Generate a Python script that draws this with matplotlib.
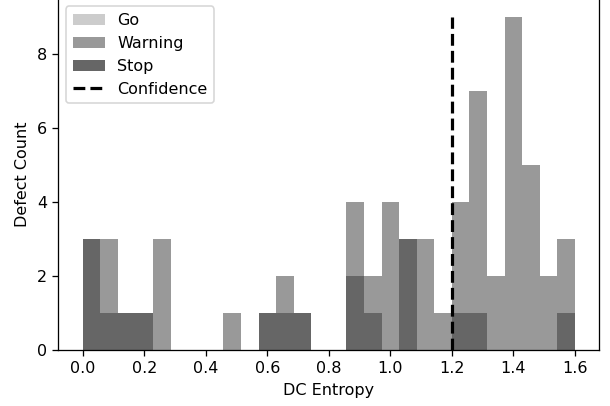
import numpy as np
import matplotlib
matplotlib.use('Agg')
import matplotlib.pyplot as plt

# 28 equal bins from 0 to 1.6
bin_edges = np.linspace(0.0, 1.6, 29)
bin_centers = (bin_edges[:-1] + bin_edges[1:]) / 2

# defect counts per bin
go_counts = [0] * 28
warning_counts = [3, 3, 1, 1, 3, 0, 0, 0, 1, 0, 1, 2, 1, 0,
                  0, 4, 2, 4, 3, 3, 1, 4, 7, 2, 9, 5, 2, 3]
stop_counts = [3, 1, 1, 1, 0, 0, 0, 0, 0, 0, 1, 1, 1, 0,
               0, 2, 1, 0, 3, 0, 0, 1, 1, 0, 0, 0, 0, 1]

confidence = 1.2
confidence_top = 9

fig = plt.figure(figsize=(610 / 115, 406 / 115), dpi=115)
# top edge of the axes sits just past the canvas, as in the cropped original
ax = fig.add_axes([0.0956, 0.138, 0.887, 0.866])

_, _, p_go = ax.hist(bin_centers, bins=bin_edges, weights=go_counts, color='0.8', label='Go')
_, _, p_warn = ax.hist(bin_centers, bins=bin_edges, weights=warning_counts, color='0.6', label='Warning')
_, _, p_stop = ax.hist(bin_centers, bins=bin_edges, weights=stop_counts, color='0.4', label='Stop')
conf_line, = ax.plot([confidence, confidence], [0, confidence_top], 'k--', lw=2, label='Confidence')

ax.set_xlim(-0.08, 1.68)
ax.set_ylim(0, 9.49)
ax.set_xticks(np.arange(0, 1.61, 0.2))
ax.set_yticks([0, 2, 4, 6, 8])
ax.set_xlabel('DC Entropy')
ax.set_ylabel('Defect Count')

ax.legend([p_go[0], p_warn[0], p_stop[0], conf_line],
          ['Go', 'Warning', 'Stop', 'Confidence'], loc='upper left')

fig.savefig('out.png', dpi=115)
